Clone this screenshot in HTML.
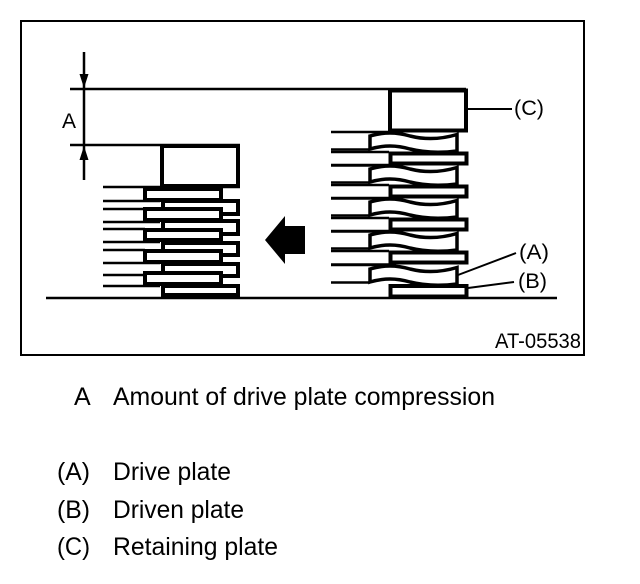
<!DOCTYPE html>
<html>
<head>
<meta charset="utf-8">
<style>
html,body{margin:0;padding:0;background:#fff}
svg{display:block}
text{font-family:"Liberation Sans",sans-serif;fill:#000}
</style>
</head>
<body>
<svg width="640" height="584" viewBox="0 0 640 584" xmlns="http://www.w3.org/2000/svg">
<defs>
<g id="rw">
<path d="M331 0H396M331 17.500H369" stroke="#000" stroke-width="2.500" fill="none"/>
<path d="M370 4C384 0 396 0 410 4C426 8 442 7 457 2.500V19C442 21 426 21 410 17C396 13 384 13 370 17Z" fill="#fff" stroke="#000" stroke-width="3.500"/>
</g>
<g id="rp">
<path d="M331 1H389M331 14.500H389" stroke="#000" stroke-width="2.500" fill="none"/>
<rect x="390.500" y="2.500" width="76" height="10" fill="#fff" stroke="#000" stroke-width="4"/>
</g>
</defs>

<rect x="21" y="21" width="563" height="334" fill="none" stroke="#000" stroke-width="2"/>

<!-- dimension -->
<path d="M70 89H466M70 145H240M84 52V180M46 298H557" stroke="#000" stroke-width="2.500" fill="none"/>
<path d="M79.500 74H88.500L84 88ZM79.500 160H88.500L84 146Z" fill="#000"/>
<text x="62" y="128" font-size="21">A</text>

<!-- left stack -->
<rect x="162" y="146" width="76" height="40" fill="#fff" stroke="#000" stroke-width="4"/>
<g fill="#fff" stroke="#000" stroke-width="4">
<rect x="163" y="201" width="75" height="13"/>
<rect x="163" y="221" width="75" height="13"/>
<rect x="163" y="243" width="75" height="12"/>
<rect x="163" y="264" width="75" height="12"/>
<rect x="163" y="286" width="75" height="9"/>
<rect x="145" y="189" width="76" height="11"/>
<rect x="145" y="209" width="76" height="11"/>
<rect x="145" y="230" width="76" height="10"/>
<rect x="145" y="251" width="76" height="11"/>
<rect x="145" y="273" width="76" height="11"/>
</g>
<path d="M103 187H240M103 201H160M103 209H145M103 222H160M103 229H145M103 242H160M103 250H145M103 263H160M103 275H145M103 286H160" stroke="#000" stroke-width="2.500" fill="none"/>

<!-- direction arrow -->
<path d="M265 240L285 216V226H305V254H285V264Z" fill="#000"/>

<!-- right stack -->
<rect x="390" y="90.500" width="76" height="40" fill="#fff" stroke="#000" stroke-width="4"/>
<use href="#rw" y="132"/>
<use href="#rw" y="165"/>
<use href="#rw" y="198"/>
<use href="#rw" y="231"/>
<use href="#rw" y="265"/>
<use href="#rp" y="151"/>
<use href="#rp" y="184"/>
<use href="#rp" y="217"/>
<use href="#rp" y="250"/>
<rect x="390.500" y="286" width="76" height="10.500" fill="#fff" stroke="#000" stroke-width="4"/>

<!-- leaders -->
<path d="M468 109H512M458 275L516 253M468 288L514 282" stroke="#000" stroke-width="2" fill="none"/>
<text x="514" y="115" font-size="21" textLength="30" lengthAdjust="spacingAndGlyphs">(C)</text>
<text x="519" y="259" font-size="21" textLength="30" lengthAdjust="spacingAndGlyphs">(A)</text>
<text x="518" y="288" font-size="21" textLength="29" lengthAdjust="spacingAndGlyphs">(B)</text>
<text x="495" y="348" font-size="21" textLength="86" lengthAdjust="spacingAndGlyphs">AT-05538</text>

<!-- legend -->
<text x="74" y="405" font-size="25">A</text>
<text x="113" y="405" font-size="25" textLength="382" lengthAdjust="spacingAndGlyphs">Amount of drive plate compression</text>
<text x="57" y="480" font-size="25" textLength="33" lengthAdjust="spacingAndGlyphs">(A)</text>
<text x="113" y="480" font-size="25" textLength="118" lengthAdjust="spacingAndGlyphs">Drive plate</text>
<text x="57" y="518" font-size="25" textLength="33" lengthAdjust="spacingAndGlyphs">(B)</text>
<text x="113" y="518" font-size="25" textLength="131" lengthAdjust="spacingAndGlyphs">Driven plate</text>
<text x="57" y="555" font-size="25" textLength="33" lengthAdjust="spacingAndGlyphs">(C)</text>
<text x="113" y="555" font-size="25" textLength="165" lengthAdjust="spacingAndGlyphs">Retaining plate</text>
</svg>
</body>
</html>
